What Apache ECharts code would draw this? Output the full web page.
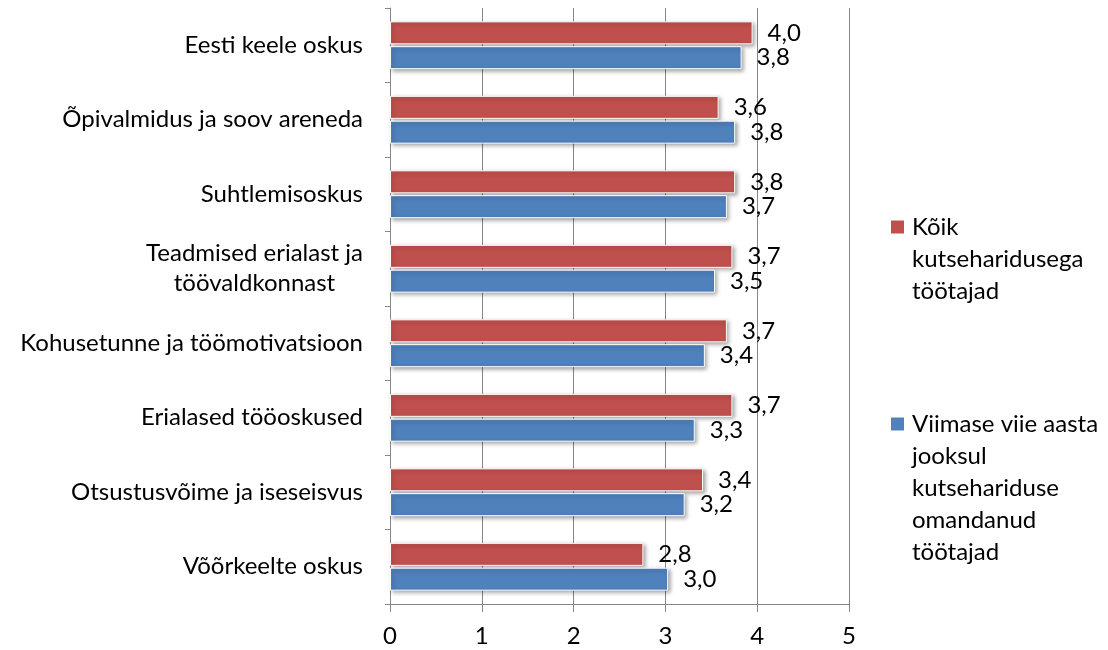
<!DOCTYPE html>
<html>
<head>
<meta charset="utf-8">
<script src="https://cdn.jsdelivr.net/npm/echarts@6/dist/echarts.min.js"></script>
<style>
  html, body { margin: 0; padding: 0; background: #fff; }
  #chart { width: 1108px; height: 650px; }
</style>
</head>
<body>
<div id="chart"></div>
<script>
const categories = [
  'Eesti keele oskus',
  'Õpivalmidus ja soov areneda',
  'Suhtlemisoskus',
  'Teadmised erialast ja\ntöövaldkonnast',
  'Kohusetunne ja töömotivatsioon',
  'Erialased tööoskused',
  'Otsustusvõime ja iseseisvus',
  'Võõrkeelte oskus'
];
const seriesNames = [
  'Kõik kutseharidusega töötajad',
  'Viimase viie aasta jooksul kutsehariduse omandanud töötajad'
];
const legendLines = [
  ['Kõik', 'kutseharidusega', 'töötajad'],
  ['Viimase viie aasta', 'jooksul', 'kutsehariduse', 'omandanud', 'töötajad']
];
const allWorkers = [3.95, 3.58, 3.76, 3.73, 3.67, 3.73, 3.41, 2.76];
const recentGrads = [3.83, 3.76, 3.67, 3.54, 3.43, 3.32, 3.21, 3.03];
const xTicks = [0, 1, 2, 3, 4, 5];

const font = 'Lato, "Open Sans", sans-serif';
const fontSize = 24;
const colors = ['#C0504D', '#4F81BD'];

// legend text: pad with blank lines so the icon sits on the first line
function legendText(i) {
  const lines = legendLines[i];
  return '\n'.repeat(lines.length - 1) + lines.join('\n');
}

function makeLegend(i, top) {
  return {
    data: [seriesNames[i]],
    orient: 'vertical',
    left: 891,
    top: top,
    padding: 0,
    icon: 'rect',
    itemWidth: 13,
    itemHeight: 13,
    itemStyle: { borderWidth: 0, shadowBlur: 0, shadowOffsetX: 0, shadowOffsetY: 0 },
    formatter: function () { return legendText(i); },
    textStyle: { fontFamily: font, fontSize: fontSize, color: '#000', lineHeight: 32, padding: [0, 0, 0, 3] }
  };
}

function makeSeries(i, values) {
  return {
    name: seriesNames[i],
    type: 'bar',
    data: values,
    barWidth: 23,
    barGap: '8%',
    itemStyle: {
      color: colors[i],
      borderColor: '#fff',
      borderWidth: 1,
      shadowBlur: 4,
      shadowColor: 'rgba(0,0,0,0.35)',
      shadowOffsetX: 2,
      shadowOffsetY: 2
    },
    label: {
      show: true,
      position: 'right',
      distance: 15,
      fontFamily: font,
      fontSize: fontSize,
      color: '#000',
      formatter: function (p) { return p.value.toFixed(1).replace('.', ','); }
    }
  };
}

const chart = echarts.init(document.getElementById('chart'));
chart.setOption({
  animation: false,
  backgroundColor: '#fff',
  grid: { left: 390, right: 259, top: 8, bottom: 46 },
  legend: [makeLegend(0, 147), makeLegend(1, 280)],
  xAxis: {
    type: 'value',
    min: xTicks[0],
    max: xTicks[xTicks.length - 1],
    interval: 1,
    axisLine: { show: true, lineStyle: { color: '#868686', width: 1 } },
    axisTick: { show: true, length: 8, lineStyle: { color: '#868686' } },
    splitLine: { show: true, lineStyle: { color: '#868686', width: 1 } },
    axisLabel: {
      margin: 20,
      fontFamily: font,
      fontSize: fontSize,
      color: '#000',
      formatter: function (v) { return xTicks.indexOf(v) >= 0 ? String(v) : ''; }
    }
  },
  yAxis: {
    type: 'category',
    data: categories,
    inverse: true,
    axisLine: { show: true, lineStyle: { color: '#868686', width: 1 } },
    axisTick: { show: true, length: 5, lineStyle: { color: '#868686' } },
    splitLine: { show: false },
    axisLabel: {
      margin: 27,
      fontFamily: font,
      fontSize: fontSize,
      color: '#000',
      lineHeight: 30,
      formatter: function (v) {
        return v.split('\n').map(function (s) { return '{c|' + s + '}'; }).join('\n');
      },
      rich: {
        c: { align: 'center', fontFamily: font, fontSize: fontSize, color: '#000', lineHeight: 30 }
      }
    }
  },
  series: [makeSeries(0, allWorkers), makeSeries(1, recentGrads)]
});
</script>
</body>
</html>
